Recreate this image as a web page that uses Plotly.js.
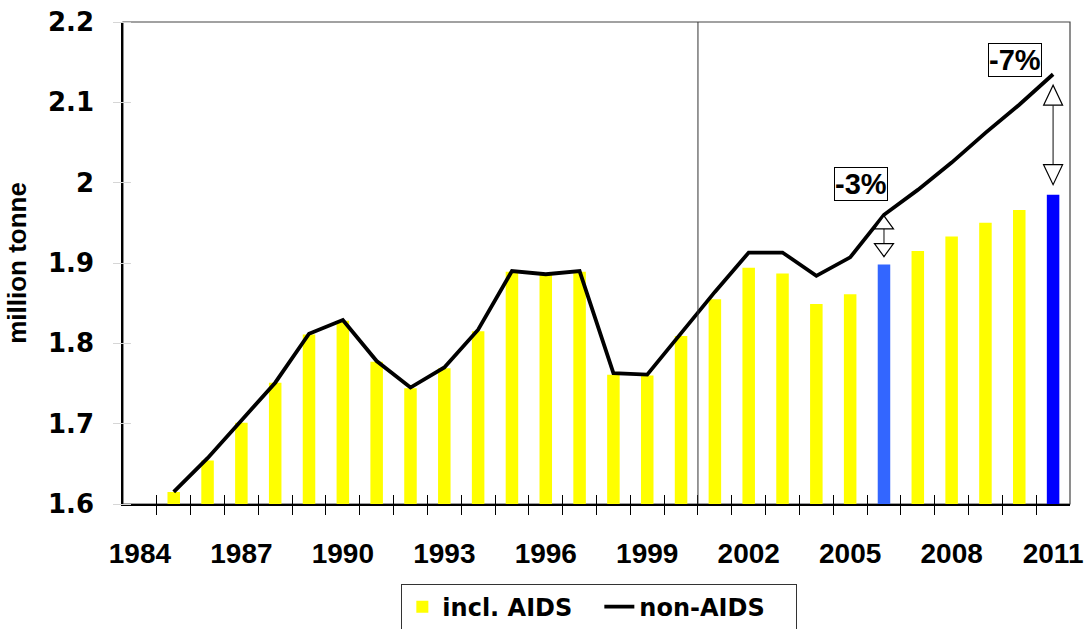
<!DOCTYPE html>
<html><head><meta charset="utf-8">
<script src="https://cdn.plot.ly/plotly-3.0.1.min.js"></script>
<style>html,body{margin:0;padding:0;background:#fff}#chart{width:1089px;height:629px}</style>
</head><body><div id="chart"></div>
<script>
// ---- data ----
const years = [1985,1986,1987,1988,1989,1990,1991,1992,1993,1994,1995,1996,1997,1998,1999,2000,2001,2002,2003,2004,2005,2006,2007,2008,2009,2010,2011];
const inclAIDS = [1.615,1.654,1.701,1.751,1.811,1.828,1.777,1.744,1.769,1.815,1.889,1.885,1.889,1.761,1.760,1.809,1.855,1.894,1.887,1.849,1.861,1.898,1.915,1.933,1.950,1.966,1.985];
const nonAIDS = [1.615,1.657,1.704,1.751,1.812,1.829,1.778,1.745,1.770,1.817,1.890,1.886,1.890,1.763,1.761,1.812,1.864,1.913,1.913,1.884,1.907,1.960,1.991,2.025,2.062,2.097,2.135];
const xTickYears = [1984,1987,1990,1993,1996,1999,2002,2005,2008,2011];
const yTicks = [1.6,1.7,1.8,1.9,2.0,2.1,2.2];
const yTickLabels = ['1.6','1.7','1.8','1.9','2','2.1','2.2'];
const seriesNames = ['incl. AIDS','non-AIDS'];
const yTitle = 'million tonne';
const gapYears = [2006, 2011];
const gapLabels = ['-3%','-7%'];
const dividerYear = 2000.5;

// ---- styles ----
const B = s => '<b>' + s + '</b>';
const BAR_YELLOW = '#FFFF00';
const highlightColors = {2006:'#3366FF', 2011:'#0000FF'};
const ARIAL = 'Liberation Sans, Arial, sans-serif';
const DEJAVU = 'DejaVu Sans, sans-serif';
const xRange = [years[0]-1.5, years[years.length-1]+0.5];
const yRange = [yTicks[0], yTicks[yTicks.length-1]];
const boundaries = [years[0]-0.5].concat(years.slice(0,-1).map(y=>y+0.5));
const plotH = 629-22-125, plotW = 1089-123-19;
const dyPerPx = (yRange[1]-yRange[0])/plotH;

// arrow geometry in px: [top gap, bottom gap, head height]
const arrowGeom = {2006:[1,8,13], 2011:[11,10,20]};
const annoShift = {2006:[-23,31], 2011:[-38,14]};

const barColors = years.map(y => highlightColors[y] || BAR_YELLOW);

const traces = [
  {type:'bar', x:years, y:inclAIDS, name:B(seriesNames[0]), width:0.37,
   marker:{color:barColors, line:{width:0}}, hoverinfo:'x+y'},
  {type:'scatter', mode:'lines', x:years, y:nonAIDS, name:B(seriesNames[1]),
   line:{color:'#000', width:3.8}},
  {type:'scatter', mode:'markers', x:[years[0]], y:[inclAIDS[0]], xaxis:'x2', yaxis:'y2',
   marker:{opacity:0}, showlegend:false, hoverinfo:'skip'}
];

const shapes = [
  {type:'rect', xref:'paper', yref:'paper', x0:0, x1:1, y0:0, y1:1, line:{color:'#444', width:1.2}, layer:'below'},
  {type:'line', xref:'x', yref:'paper', x0:dividerYear, x1:dividerYear, y0:0, y1:1, line:{color:'#333', width:1}}
];
const annotations = [];
gapYears.forEach((yr, k) => {
  const i = years.indexOf(yr);
  const top = nonAIDS[i], bot = inclAIDS[i];
  const g = arrowGeom[yr];
  const tipTop = top - g[0]*dyPerPx, tipBot = bot + g[1]*dyPerPx, h = g[2]*dyPerPx;
  shapes.push({type:'line', xref:'x', yref:'y', xsizemode:'pixel', xanchor:yr, x0:0, x1:0,
    y0:tipTop-h, y1:tipBot+h, line:{color:'#333', width:1.2}});
  shapes.push({type:'path', xref:'x', yref:'y', xsizemode:'pixel', xanchor:yr,
    path:`M -9.5,${tipTop-h} L 0,${tipTop} L 9.5,${tipTop-h} Z`, fillcolor:'#fff', line:{color:'#000', width:1.2}});
  shapes.push({type:'path', xref:'x', yref:'y', xsizemode:'pixel', xanchor:yr,
    path:`M -9.5,${tipBot+h} L 0,${tipBot} L 9.5,${tipBot+h} Z`, fillcolor:'#fff', line:{color:'#000', width:1.2}});
  annotations.push({x:yr, y:top, xref:'x', yref:'y', text:B(gapLabels[k]), showarrow:false,
    xshift:annoShift[yr][0], yshift:annoShift[yr][1],
    font:{family:ARIAL, size:29, color:'#000'},
    bordercolor:'#000', borderwidth:1, borderpad:0, bgcolor:'#fff'});
});

const layout = {
  width:1089, height:629,
  margin:{l:123, r:19, t:22, b:125, autoexpand:false},
  paper_bgcolor:'#fff', plot_bgcolor:'#fff',
  showlegend:true, barmode:'overlay',
  xaxis:{range:xRange, tickmode:'array', tickvals:xTickYears, ticktext:xTickYears.map(v=>B(v)),
    ticks:'outside', ticklen:23, tickcolor:'rgba(0,0,0,0)',
    tickfont:{family:ARIAL, size:28, color:'#000'},
    showline:true, linecolor:'#000', linewidth:2, showgrid:false, zeroline:false},
  xaxis2:{overlaying:'x', anchor:'free', position:10/plotH, side:'bottom', range:xRange, tickmode:'array', tickvals:boundaries,
    ticks:'outside', ticklen:20, tickcolor:'#000', tickwidth:1.2, showticklabels:false, showline:false, showgrid:false, zeroline:false},
  yaxis:{range:yRange, tickmode:'array', tickvals:yTicks, ticktext:yTickLabels.map(B),
    ticks:'outside', ticklen:10, tickcolor:'rgba(0,0,0,0)', ticklabelstandoff:12,
    tickfont:{family:DEJAVU, size:26, color:'#000'},
    showline:true, linecolor:'#000', linewidth:1.5, showgrid:false, zeroline:false,
    title:{text:B(yTitle), standoff:14, font:{family:ARIAL, size:26, color:'#000'}}},
  yaxis2:{overlaying:'y', anchor:'free', position:8/plotW, side:'left', range:yRange, tickmode:'array', tickvals:yTicks,
    ticks:'outside', ticklen:18, tickcolor:'#d6d6d6', showticklabels:false, showline:false, showgrid:false, zeroline:false},
  legend:{orientation:'h', x:0.503, xanchor:'center', y:-0.165, yanchor:'top',
    bordercolor:'#333', borderwidth:1, bgcolor:'#fff', entrywidth:152, entrywidthmode:'pixels',
    font:{family:DEJAVU, size:24, color:'#000'}},
  shapes:shapes, annotations:annotations
};

Plotly.newPlot('chart', traces, layout, {displayModeBar:false, responsive:false});
</script></body></html>
